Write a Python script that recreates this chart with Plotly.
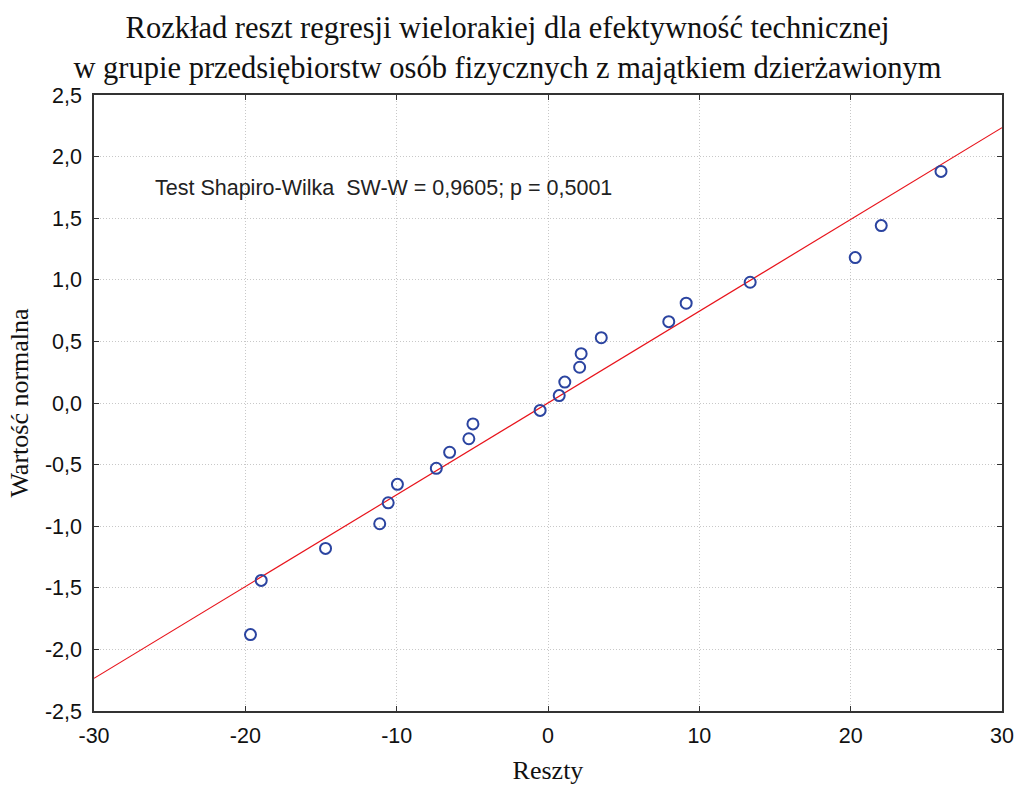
import plotly.graph_objects as go

# Residuals (x) and expected normal values (y)
reszty = [25.97, 22.02, 20.30, 13.36, 9.13, 7.98, 3.52, 2.19, 2.09, 1.11, 0.74,
          -0.52, -4.96, -5.23, -6.50, -7.38, -9.95, -10.56, -11.12, -14.70, -18.95, -19.66]
wartosc_normalna = [1.88, 1.44, 1.18, 0.98, 0.81, 0.66, 0.53, 0.40, 0.29, 0.17, 0.06,
                    -0.06, -0.17, -0.29, -0.40, -0.53, -0.66, -0.81, -0.98, -1.18, -1.44, -1.88]

# Reference line endpoints
line_x = [-30, 30]
line_y = [-2.235, 2.235]

x_ticks = [-30, -20, -10, 0, 10, 20, 30]
x_ticktext = ["-30", "-20", "-10", "0", "10", "20", "30"]
y_ticks = [-2.5, -2.0, -1.5, -1.0, -0.5, 0.0, 0.5, 1.0, 1.5, 2.0, 2.5]
y_ticktext = ["-2,5", "-2,0", "-1,5", "-1,0", "-0,5", "0,0", "0,5", "1,0", "1,5", "2,0", "2,5"]

title_text = ("Rozkład reszt regresji wielorakiej dla efektywność technicznej<br>"
              "w grupie przedsiębiorstw osób fizycznych z majątkiem dzierżawionym")
annot_text = "Test Shapiro-Wilka&nbsp;&nbsp;SW-W = 0,9605; p = 0,5001"

fig = go.Figure()
fig.add_trace(go.Scatter(
    x=line_x, y=line_y, mode="lines",
    line=dict(color="#e8141c", width=1.2), hoverinfo="skip", showlegend=False))
fig.add_trace(go.Scatter(
    x=reszty, y=wartosc_normalna, mode="markers",
    marker=dict(symbol="circle-open", size=11, color="#2b44a0", line=dict(width=2, color="#2b44a0")),
    showlegend=False))

fig.add_annotation(
    x=-26.1, y=1.745, xref="x", yref="y", text=annot_text, showarrow=False,
    xanchor="left", yanchor="middle",
    font=dict(family="Liberation Sans, Arial", size=21.5, color="#222222"))

axis_common = dict(
    showline=True, linecolor="#333333", linewidth=1.5, mirror="ticks",
    ticks="inside", ticklen=5, tickcolor="#333333", tickwidth=1,
    showgrid=True, gridcolor="#c8c8c8", griddash="1px,2px", gridwidth=1,
    zeroline=False, automargin=False,
    tickfont=dict(family="Liberation Sans, Arial", size=21.5, color="#111111"),
)

fig.update_layout(
    width=1015, height=785,
    paper_bgcolor="white", plot_bgcolor="white",
    margin=dict(l=94, r=13, t=95, b=74),
    title=dict(text=title_text, x=0.5, xref="container", xanchor="center",
               y=0.951, yref="container", yanchor="top",
               font=dict(family="Liberation Serif, Times New Roman", size=30.5, color="#111111")),
    xaxis=dict(range=[-30, 30], tickvals=x_ticks, ticktext=x_ticktext,
               ticklabelstandoff=4,
               title=dict(text="Reszty", standoff=18,
                          font=dict(family="Liberation Serif, Times New Roman", size=26, color="#111111")),
               **axis_common),
    yaxis=dict(range=[-2.5, 2.5], tickvals=y_ticks, ticktext=y_ticktext,
               ticklabelstandoff=6,
               title=dict(text="Wartość normalna", standoff=9,
                          font=dict(family="Liberation Serif, Times New Roman", size=26, color="#111111")),
               **axis_common),
)

fig.write_html("out.html")
